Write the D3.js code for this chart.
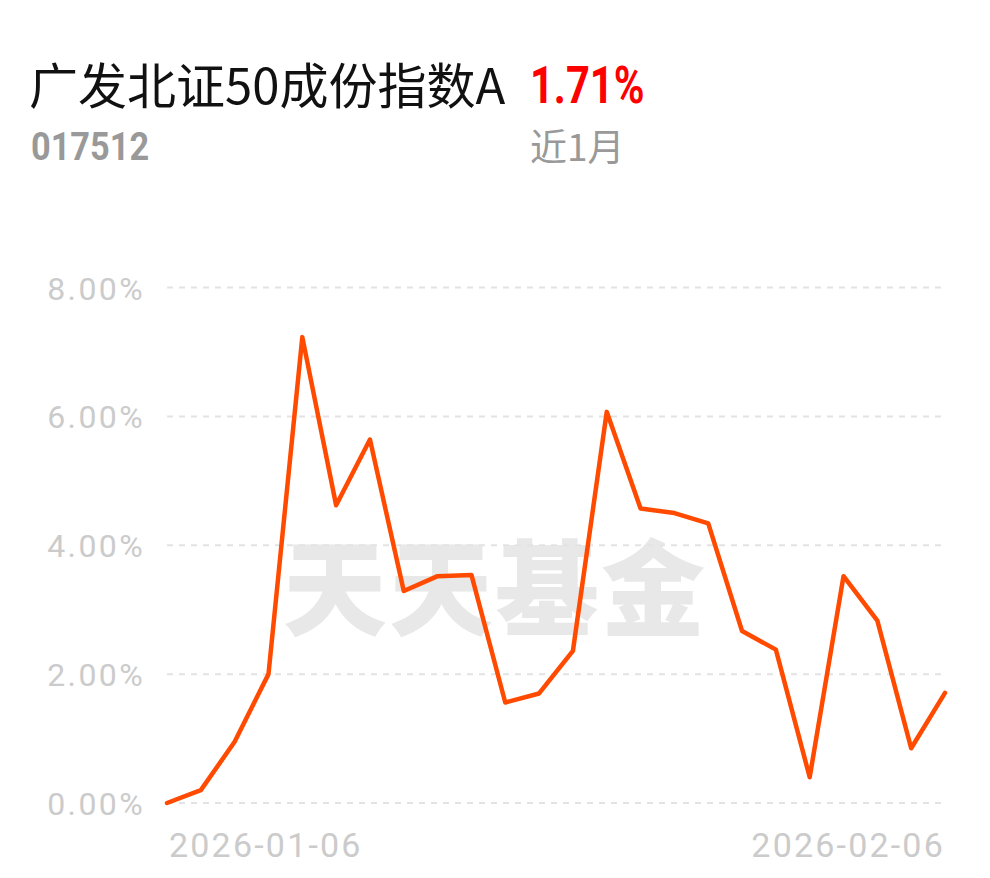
<!DOCTYPE html>
<html><head><meta charset="utf-8">
<script src="https://cdn.jsdelivr.net/npm/d3@7/dist/d3.min.js"></script>
<style>body{margin:0;background:#fff;}svg{display:block;}</style>
</head><body>
<svg id="c" width="990" height="878"></svg>
<script>
const dates = ["2026-01-06","2026-01-07","2026-01-08","2026-01-09","2026-01-12","2026-01-13","2026-01-14","2026-01-15","2026-01-16","2026-01-19","2026-01-20","2026-01-21","2026-01-22","2026-01-23","2026-01-26","2026-01-27","2026-01-28","2026-01-29","2026-01-30","2026-02-02","2026-02-03","2026-02-04","2026-02-05","2026-02-06"];
const values = [0.00,0.20,0.95,2.00,7.23,4.62,5.64,3.29,3.52,3.54,1.56,1.70,2.36,6.07,4.57,4.50,4.34,2.67,2.38,0.40,3.52,2.83,0.85,1.71];
const yTicks = [0,2,4,6,8];
const xLabels = ["2026-01-06","2026-02-06"];
const title = "广发北证50成份指数A";
const code = "017512";
const ret = "1.71%";
const period = "近1月";

const svg = d3.select("#c");
const font = "'Noto Sans CJK SC','Noto Sans',sans-serif";
const x = d3.scalePoint().domain(dates).range([167, 945]);
const y = d3.scaleLinear().domain([0, 8]).range([803, 287.5]);

svg.append("text").attr("x", 29).attr("y", 104).attr("font-family", font)
  .attr("font-size", 49).attr("fill", "#111").text(title);
svg.append("text").attr("x", 530).attr("y", 103).attr("font-family", "Roboto,sans-serif")
  .attr("font-size", 52).attr("font-weight", "bold").attr("fill", "#f00")
  .attr("transform", "translate(530,0) scale(0.8,1) translate(-530,0)").text(ret);
svg.append("text").attr("x", 31).attr("y", 160).attr("font-family", "Roboto,sans-serif")
  .attr("font-size", 39).attr("font-weight", "bold").attr("fill", "#999")
  .attr("transform", "translate(31,0) scale(0.88,1) translate(-31,0)").text(code);
svg.append("text").attr("x", 530).attr("y", 161).attr("font-family", font)
  .attr("font-size", 37).attr("fill", "#999").text(period);

// watermark
svg.append("text").attr("x", 495).attr("y", 628).attr("text-anchor", "middle")
  .attr("font-family", "'Noto Sans CJK SC',sans-serif").attr("font-weight", "900")
  .attr("font-size", 104).attr("fill", "#e8e8e8").attr("letter-spacing", 2).text("天天基金");

// grid
const g = svg.append("g");
g.selectAll("line.grid").data(yTicks).join("line")
  .attr("x1", 167).attr("x2", 945).attr("y1", d => y(d)).attr("y2", d => y(d))
  .attr("stroke", "#e3e3e3").attr("stroke-width", 2).attr("stroke-dasharray", "6,6");
g.selectAll("text.yl").data(yTicks).join("text")
  .attr("x", 145).attr("y", d => y(d) + 12).attr("text-anchor", "end")
  .attr("font-family", "Roboto,sans-serif").attr("font-size", 32).attr("letter-spacing", 2.4).attr("fill", "#cbcbcb")
  .text(d => d3.format(".2f")(d) + "%");

svg.append("text").attr("x", 169).attr("y", 857).attr("font-family", "Roboto,sans-serif")
  .attr("font-size", 34).attr("letter-spacing", 2.2).attr("fill", "#cbcbcb").text(xLabels[0]);
svg.append("text").attr("x", 945).attr("y", 857).attr("text-anchor", "end").attr("font-family", "Roboto,sans-serif")
  .attr("font-size", 34).attr("letter-spacing", 2.2).attr("fill", "#cbcbcb").text(xLabels[1]);

const line = d3.line().x((d, i) => x(dates[i])).y(d => y(d));
svg.append("path").datum(values).attr("d", line).attr("fill", "none")
  .attr("stroke", "#ff4a00").attr("stroke-width", 4.5).attr("stroke-linejoin", "round").attr("stroke-linecap", "round");
</script>
</body></html>
